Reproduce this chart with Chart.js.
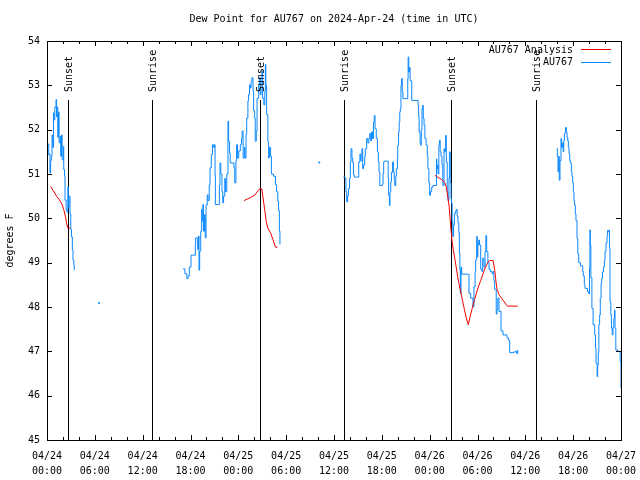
<!DOCTYPE html>
<html lang="en">
<head>
<meta charset="UTF-8">
<title>Dew Point for AU767</title>
<script src="https://cdn.jsdelivr.net/npm/chart.js"></script>
<style>
  body { margin: 0; background: #fff; }
  canvas { display: block; }
</style>
</head>
<body>
<canvas id="dewChart" width="640" height="480"></canvas>
<script>
// time axis = hours since 2024-04-24 00:00 UTC, null dew point = gap in record
const obsHours = [
  0.16, 0.22, 0.30, 0.38, 0.45, 0.55, 0.63, 0.72, 0.82, 0.88, 0.98, 1.13, 1.20, 1.25, 1.35, 1.44,
  1.52, 1.63, 1.72, 1.82, 1.90, 2.04, 2.10, 2.20, 2.26, 2.40, 2.51, 2.62, 2.68, 2.76, 2.89, 2.98,
  3.08, 3.18, 3.26, 3.36, 3.42,
  5.0, 6.52, 10.0,
  17.06, 17.30, 17.55, 17.69, 17.85, 18.06, 18.60, 18.65, 18.90, 19.00, 19.07, 19.15, 19.28, 19.40,
  19.44, 19.55, 19.62, 19.75, 19.85, 19.95, 20.10, 20.20, 20.35, 20.45, 20.61, 20.75, 20.91, 21.02,
  21.08, 21.12, 21.62, 21.70, 21.80, 21.95, 22.05, 22.15, 22.30, 22.40, 22.55, 22.70, 22.78, 22.90,
  22.98, 23.45, 23.55, 23.70, 23.78, 23.90, 24.05, 24.25, 24.40, 24.48, 24.60, 24.75, 24.84, 24.97,
  25.05, 25.20, 25.28, 25.40, 25.50, 25.60, 25.70, 25.84, 25.92, 26.05, 26.12, 26.25, 26.35, 26.55,
  26.65, 26.75, 26.85, 26.95, 27.05, 27.20, 27.32, 27.39, 27.45, 27.55, 27.70, 27.80, 27.90, 28.05,
  28.15, 28.40, 28.65, 28.80, 28.95, 29.05, 29.15, 29.22,
  31.0, 34.16, 36.0,
  37.17, 37.40, 37.50, 37.60, 37.70, 37.80, 37.95, 38.05, 38.13, 38.25, 38.35, 38.44, 38.55, 39.10,
  39.25, 39.35, 39.50, 39.60, 39.70, 39.85, 39.92, 40.10, 40.25, 40.38, 40.48, 40.60, 40.70, 40.82,
  40.95, 41.05, 41.15, 41.30, 41.45, 41.56, 41.65, 41.75, 42.05, 42.15, 42.23, 42.30, 42.80, 42.85,
  42.95, 43.02, 43.12, 43.20, 43.35, 43.45, 43.55, 43.62, 43.75, 43.82, 43.95, 44.00, 44.10, 44.18,
  44.25, 44.32, 44.40, 44.48, 44.57, 44.65, 45.25, 45.30, 45.38, 45.45, 45.55, 45.75, 46.55, 46.62,
  46.68, 46.80, 46.87, 46.95, 47.04, 47.12, 47.20, 47.30, 47.40, 47.55, 47.70, 47.78, 47.90, 48.00,
  48.10, 48.25, 48.40, 48.85, 48.90, 48.98, 49.05, 49.15, 49.22, 49.32, 49.42, 49.55, 49.65, 49.80,
  49.88, 50.00, 50.09, 50.20, 50.30, 50.42, 50.48, 50.58, 50.68, 50.75, 50.82, 50.90, 51.00, 51.10,
  51.22, 51.32, 51.45, 51.55, 51.66, 51.72, 51.79, 51.85, 51.93, 52.02, 52.85, 52.93, 53.15, 53.43,
  53.55, 53.70, 53.77, 53.90, 53.97, 54.05, 54.15, 54.25, 54.40, 54.55, 54.65, 54.80, 54.95, 55.05,
  55.15, 55.30, 55.45, 55.60, 55.82, 55.95, 56.05, 56.15, 56.35, 56.45, 56.55, 56.70, 56.95, 57.20,
  57.70, 57.90, 58.04, 58.50, 58.70, 58.90, 59.04,
  62.0,
  63.95, 64.02, 64.10, 64.18, 64.26, 64.35, 64.47, 64.55, 64.65, 64.75, 64.82, 64.90, 64.98, 65.05,
  65.15, 65.23, 65.32, 65.40, 65.48, 65.57, 65.65, 65.77, 65.85, 65.94, 66.02, 66.10, 66.18, 66.27,
  66.35, 66.48, 66.58, 66.70, 66.92, 67.20, 67.27, 67.40, 67.48, 67.80, 67.95, 68.05, 68.10, 68.15,
  68.22, 68.35, 68.50, 68.70, 68.80, 68.87, 69.00, 69.07, 69.15, 69.22, 69.32, 69.40, 69.50, 69.58,
  69.68, 69.80, 69.92, 70.00, 70.12, 70.25, 70.32, 70.40, 70.50, 70.55, 70.62, 70.72, 70.80, 70.90,
  71.00, 71.10, 71.18, 71.25, 71.35, 71.60, 71.90, 72.00
];
const obsDewF = [
  51.68, 51.43, 51.45, 51.02, 51.30, 51.40, 51.88, 51.60, 52.38, 52.22, 52.51, 52.68, 52.29, 52.51, 51.83, 52.40,
  51.70, 51.85, 51.40, 51.88, 51.32, 51.62, 51.10, 50.95, 50.41, 50.20, 50.14, 50.71, 50.25, 50.50, 50.10, 49.75,
  49.58, 49.29, 49.06, 48.95, 48.83,
  null, 48.09, null,
  48.86, 48.75, 48.64, 48.70, 48.90, 49.17, 49.40, 49.56, 49.30, 49.60, 48.83, 49.26, 49.71, 50.20,
  49.94, 50.31, 49.71, 50.08, 49.56, 50.30, 50.53, 50.40, 50.76, 51.14, 51.44, 51.66, 51.60, 51.66,
  50.98, 50.31, 50.75, 51.25, 51.00, 50.60, 50.35, 50.50, 50.90, 50.60, 51.00, 52.19, 51.74, 51.47,
  51.25, 51.14, 50.80, 51.30, 51.66, 51.36, 51.52, 51.66, 51.80, 51.97, 51.36, 51.60, 51.36, 51.90,
  52.26, 52.65, 52.79, 53.01, 52.94, 53.09, 53.17, 52.87, 52.42, 52.26, 51.74, 51.97, 52.71, 53.00,
  53.17, 52.79, 53.17, 53.32, 52.71, 52.56, 52.87, 53.47, 53.00, 52.34, 51.74, 51.36, 51.60, 51.40,
  51.00, 50.95, 50.76, 50.60, 50.39, 50.17, 49.71, 49.41,
  null, 51.26, null,
  50.93, 50.90, 50.60, 50.37, 50.50, 50.67, 50.90, 51.27, 51.57, 51.36, 51.25, 50.98, 50.93, 51.27,
  51.45, 51.30, 51.57, 51.12, 51.20, 51.40, 51.57, 51.80, 51.70, 51.80, 51.91, 51.75, 51.95, 51.80,
  52.17, 52.32, 52.02, 51.80, 51.50, 51.27, 51.04, 50.74, 50.77, 51.00, 51.27, 51.29, 50.90, 50.52,
  50.29, 50.60, 50.82, 51.04, 51.27, 51.04, 50.90, 50.74, 50.95, 51.12, 51.34, 51.65, 51.95, 52.17,
  52.40, 52.47, 53.00, 53.15, 52.85, 52.70, 53.15, 53.64, 53.30, 53.40, 53.10, 52.66, 52.55, 52.30,
  51.95, 51.70, 51.65, 52.00, 52.47, 52.55, 52.25, 52.10, 51.80, 51.65, 51.40, 51.12, 50.80, 50.52,
  50.60, 50.70, 50.74, 51.34, 51.12, 51.20, 51.00, 51.65, 51.76, 51.50, 51.40, 51.20, 50.74, 51.57,
  51.50, 51.87, 51.27, 50.60, 50.40, 50.90, 51.50, 50.80, 50.44, 50.34, 49.92, 49.59, 49.85, 50.10,
  50.15, 50.20, 50.05, 49.90, 49.67, 49.22, 48.84, 48.31, 48.90, 48.74, 48.74, 48.31, 48.20, 48.00,
  48.45, 48.80, 49.06, 49.59, 49.13, 49.40, 49.51, 49.40, 48.85, 48.80, 49.10, 48.90, 49.25, 49.61,
  49.25, 49.00, 48.85, 48.80, 48.75, 48.80, 48.60, 48.40, 47.84, 47.95, 48.20, 47.90, 47.46, 47.37,
  47.30, 47.25, 46.97, 46.98, 47.00, 46.95, 47.03,
  null,
  51.58, 51.39, 51.05, 51.40, 50.86, 51.30, 51.80, 51.60, 51.70, 51.50, 51.75, 51.90, 51.95, 52.05,
  51.95, 51.83, 51.75, 51.60, 51.45, 51.30, 51.25, 51.05, 50.95, 50.80, 50.60, 50.40, 50.30, 50.10,
  49.95, 49.55, 49.20, 49.00, 48.93, 48.80, 48.70, 48.50, 48.42, 48.35, 48.30, 48.90, 49.74, 49.40,
  48.66, 47.97, 47.60, 47.37, 47.07, 46.73, 46.43, 46.69, 46.97, 47.60, 47.82, 48.20, 48.53, 48.65,
  48.79, 48.90, 49.06, 49.25, 49.44, 49.62, 49.73, 49.70, 49.73, 49.32, 48.12, 47.82, 47.52, 47.37,
  47.55, 47.74, 47.93, 47.52, 47.03, 47.00, 46.77, 46.17
];

const anaHours = [
  0.45, 0.80, 1.20, 1.55, 1.85, 2.10, 2.30, 2.45, 2.60, 2.95,
  12.0,
  24.70, 25.20, 25.65, 26.10, 26.45, 26.80, 26.95, 27.10, 27.30, 27.50, 27.70, 28.05, 28.35, 28.65, 28.90,
  40.0,
  48.70, 49.00, 49.30, 49.60, 49.90, 50.10, 50.30, 50.45, 50.62, 50.80, 50.95, 51.20, 51.45, 51.65,
  52.00, 52.35, 52.60, 52.85, 53.10, 53.35, 53.60, 53.85, 54.10, 54.40, 54.70, 55.00, 55.30, 55.50,
  55.95, 56.15, 56.30, 56.45, 56.70, 57.00, 57.30, 57.60, 57.80, 59.05
];
const anaDewF = [
  50.72, 50.62, 50.50, 50.42, 50.33, 50.20, 50.05, 49.90, 49.78, 49.78,
  null,
  50.40, 50.44, 50.48, 50.53, 50.62, 50.68, 50.66, 50.46, 50.20, 49.93, 49.78, 49.67, 49.52, 49.35, 49.35,
  null,
  50.97, 50.93, 50.90, 50.86, 50.80, 50.70, 50.45, 50.25, 49.85, 49.50, 49.30, 49.05, 48.75, 48.55,
  48.25, 47.95, 47.75, 47.60, 47.80, 47.98, 48.15, 48.30, 48.45, 48.60, 48.75, 48.90, 49.00, 49.05,
  49.05, 48.85, 48.60, 48.40, 48.28, 48.20, 48.13, 48.05, 48.02, 48.02
];

const sunsetHours = [2.65, 26.67, 50.70];
const sunriseHours = [13.22, 37.28, 61.33];
const sunLineTop = 52.68;
const sunLabelAt = 52.85;

const xLabelDates = ['04/24', '04/24', '04/24', '04/24', '04/25', '04/25', '04/25', '04/25',
                     '04/26', '04/26', '04/26', '04/26', '04/27'];
const xLabelTimes = ['00:00', '06:00', '12:00', '18:00', '00:00', '06:00', '12:00', '18:00',
                     '00:00', '06:00', '12:00', '18:00', '00:00'];

const MONO = "'DejaVu Sans Mono', 'Liberation Mono', monospace";
const BLUE = '#0a88ff';
const RED = '#ee0000';

// split a series into unbroken runs at the nulls
function runs(xs, ys) {
  const out = [];
  let cur = [];
  xs.forEach((h, i) => {
    if (ys[i] == null) {
      if (cur.length) out.push(cur);
      cur = [];
    } else {
      cur.push({ x: h, y: ys[i] });
    }
  });
  if (cur.length) out.push(cur);
  return out;
}

const datasets = [];
runs(anaHours, anaDewF).forEach(r => datasets.push({
  label: 'AU767 Analysis',
  data: r,
  borderColor: RED,
  borderWidth: 1,
  pointRadius: 0,
  tension: 0
}));
runs(obsHours, obsDewF).forEach(r => datasets.push({
  label: 'AU767',
  data: r,
  borderColor: BLUE,
  backgroundColor: BLUE,
  borderWidth: 1,
  stepped: 'before',
  pointRadius: r.length === 1 ? 1 : 0,
  pointBorderWidth: 0
}));

const decor = {
  id: 'decor',
  beforeDatasetsDraw(chart) {
    const { ctx, scales: { x, y } } = chart;
    ctx.save();
    ctx.strokeStyle = '#000';
    ctx.lineWidth = 1;
    const yTop = Math.round(y.getPixelForValue(sunLineTop));
    const yBot = Math.round(y.getPixelForValue(45));
    [...sunsetHours, ...sunriseHours].forEach(h => {
      const px = Math.round(x.getPixelForValue(h)) + 0.5;
      ctx.beginPath();
      ctx.moveTo(px, yTop);
      ctx.lineTo(px, yBot);
      ctx.stroke();
    });
    ctx.restore();
  },
  afterDatasetsDraw(chart) {
    const { ctx, chartArea: a, scales: { x, y } } = chart;
    ctx.save();
    ctx.strokeStyle = '#000';
    ctx.lineWidth = 1;
    ctx.strokeRect(a.left + 0.5, a.top + 0.5, a.right - a.left, a.bottom - a.top);

    // inward ticks on all four sides
    ctx.beginPath();
    x.ticks.forEach(t => {
      const px = Math.round(x.getPixelForValue(t.value)) + 0.5;
      const len = t.value % 6 === 0 ? 5 : 3;
      ctx.moveTo(px, a.bottom); ctx.lineTo(px, a.bottom - len);
      ctx.moveTo(px, a.top); ctx.lineTo(px, a.top + len);
    });
    y.ticks.forEach(t => {
      const py = Math.round(y.getPixelForValue(t.value)) + 0.5;
      ctx.moveTo(a.left, py); ctx.lineTo(a.left + 5, py);
      ctx.moveTo(a.right, py); ctx.lineTo(a.right - 5, py);
    });
    ctx.stroke();

    ctx.fillStyle = '#000';
    ctx.font = '10px ' + MONO;

    // title
    ctx.textAlign = 'center';
    ctx.textBaseline = 'middle';
    ctx.fillText('Dew Point for AU767 on 2024-Apr-24 (time in UTC)', (a.left + a.right) / 2, 19);

    // y axis title
    ctx.save();
    ctx.translate(10, (a.top + a.bottom) / 2);
    ctx.rotate(-Math.PI / 2);
    ctx.fillText('degrees F', 0, 0);
    ctx.restore();

    // sunrise / sunset labels
    const yLab = y.getPixelForValue(sunLabelAt);
    const labelAt = (h, txt) => {
      ctx.save();
      ctx.translate(Math.round(x.getPixelForValue(h)) + 1.5, yLab);
      ctx.rotate(-Math.PI / 2);
      ctx.textAlign = 'left';
      ctx.fillText(txt, 0, 0);
      ctx.restore();
    };
    sunsetHours.forEach(h => labelAt(h, 'Sunset'));
    sunriseHours.forEach(h => labelAt(h, 'Sunrise'));

    // legend
    ctx.textAlign = 'right';
    const entries = [['AU767 Analysis', RED], ['AU767', BLUE]];
    entries.forEach(([txt, col], i) => {
      const ly = 50 + i * 12.5;
      ctx.fillStyle = '#000';
      ctx.fillText(txt, 573, ly);
      ctx.strokeStyle = col;
      ctx.beginPath();
      ctx.moveTo(581, Math.round(ly) - 0.5);
      ctx.lineTo(611, Math.round(ly) - 0.5);
      ctx.stroke();
    });
    ctx.restore();
  }
};

new Chart(document.getElementById('dewChart').getContext('2d'), {
  type: 'line',
  data: { datasets },
  options: {
    responsive: false,
    animation: false,
    devicePixelRatio: 1,
    layout: { padding: { top: 41, right: 19, left: 0, bottom: 0 } },
    plugins: {
      legend: { display: false },
      title: { display: false },
      tooltip: { enabled: false }
    },
    scales: {
      x: {
        type: 'linear',
        min: 0,
        max: 72,
        afterFit: s => { s.height = 40; s.paddingLeft = 0; s.paddingRight = 0; },
        grid: { display: false, drawTicks: false },
        border: { display: false },
        ticks: {
          stepSize: 2,
          autoSkip: false,
          maxRotation: 0,
          padding: 9,
          color: '#000',
          font: { family: MONO, size: 10, lineHeight: 1.5 },
          callback: v => (v % 6 === 0 ? [xLabelDates[v / 6], xLabelTimes[v / 6]] : '')
        }
      },
      y: {
        min: 45,
        max: 54,
        afterFit: s => { s.width = 47; s.paddingTop = 0; s.paddingBottom = 0; },
        grid: { display: false, drawTicks: false },
        border: { display: false },
        ticks: {
          stepSize: 1,
          padding: 7,
          color: '#000',
          font: { family: MONO, size: 10 }
        }
      }
    }
  },
  plugins: [decor]
});
</script>
</body>
</html>
